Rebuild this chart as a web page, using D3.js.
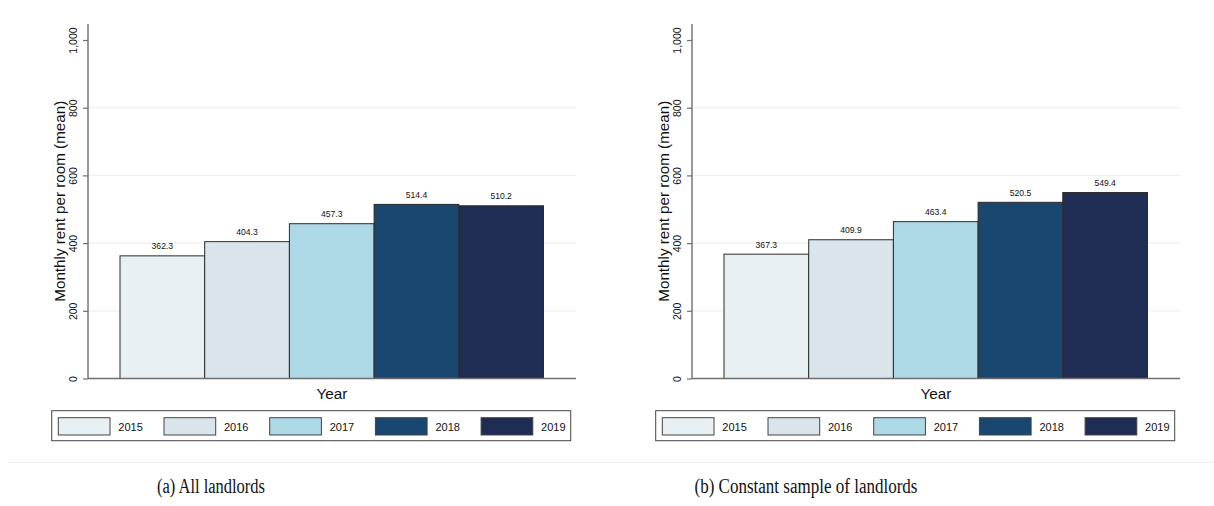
<!DOCTYPE html>
<html>
<head>
<meta charset="utf-8">
<script src="https://cdn.jsdelivr.net/npm/d3@7"></script>
<style>
  html, body { margin: 0; padding: 0; background: #fff; }
  svg { display: block; }
</style>
</head>
<body>
<svg id="chart" width="1214" height="506"></svg>
<script>
// Mean monthly rent per room by year, two samples of landlords
const years = ["2015", "2016", "2017", "2018", "2019"];
const allLandlords = [362.3, 404.3, 457.3, 514.4, 510.2];
const constantSample = [367.3, 409.9, 463.4, 520.5, 549.4];
const yTicks = [0, 200, 400, 600, 800, 1000];
const yearColors = ["#e8f0f3", "#d9e5eb", "#add8e6", "#1a476f", "#1f2c53"];
const captions = ["(a) All landlords", "(b) Constant sample of landlords"];
const yTitle = "Monthly rent per room (mean)";
const xTitle = "Year";

const svg = d3.select("#chart");
const sans = "'Liberation Sans', Arial, Helvetica, sans-serif";

// faint rule under the two graphs
svg.append("line")
  .attr("x1", 8).attr("x2", 1214)
  .attr("y1", 462.5).attr("y2", 462.5)
  .attr("stroke", "#f0f0f0").attr("stroke-width", 1);

const panels = [
  { values: allLandlords, ox: 0, caption: captions[0], capX: 211, capW: 108 },
  { values: constantSample, ox: 604, caption: captions[1], capX: 806, capW: 223 }
];

panels.forEach(p => {
  const g = svg.append("g").attr("transform", `translate(${p.ox},0)`);

  const plotLeft = 88, plotRight = 576, plotTop = 24;
  const y = d3.scaleLinear().domain([0, 1000]).range([378.5, 40]);
  const x = d3.scaleBand().domain(years).range([120, 543.5]).padding(0);

  // horizontal grid
  g.append("g").selectAll("line")
    .data(yTicks.filter(t => t > 0 && t < 1000))
    .join("line")
    .attr("x1", plotLeft).attr("x2", plotRight)
    .attr("y1", d => y(d)).attr("y2", d => y(d))
    .attr("stroke", "#eaf2f3").attr("stroke-width", 1.3);

  // bars
  g.append("g").selectAll("rect")
    .data(years.map((yr, i) => ({ yr, v: p.values[i], c: yearColors[i] })))
    .join("rect")
    .attr("x", d => x(d.yr))
    .attr("y", d => y(d.v))
    .attr("width", x.bandwidth())
    .attr("height", d => y(0) - y(d.v))
    .attr("fill", d => d.c)
    .attr("stroke", "#2b2b2b").attr("stroke-width", 1);

  // value labels
  g.append("g").selectAll("text")
    .data(years.map((yr, i) => ({ yr, v: p.values[i] })))
    .join("text")
    .attr("x", d => x(d.yr) + x.bandwidth() / 2)
    .attr("y", d => y(d.v) - 6.5)
    .attr("text-anchor", "middle")
    .attr("font-family", sans).attr("font-size", 8.6)
    .attr("fill", "#111")
    .text(d => d3.format(".1f")(d.v));

  // y axis with rotated tick labels
  const yAxis = d3.axisLeft(y).tickValues(yTicks).tickSize(5)
    .tickFormat(d3.format(","));
  const ya = g.append("g").attr("transform", `translate(${plotLeft},0)`).call(yAxis);
  ya.select(".domain").remove();
  ya.selectAll(".tick line").attr("stroke", "#6e6e6e").attr("stroke-width", 1.2);
  ya.selectAll(".tick text")
    .attr("font-family", sans).attr("font-size", 10.5).attr("fill", "#111")
    .attr("x", -11).attr("y", 0).attr("dy", 0)
    .attr("text-anchor", "middle")
    .attr("transform", "rotate(-90, -11, 0)");
  g.append("line")
    .attr("x1", plotLeft).attr("x2", plotLeft)
    .attr("y1", plotTop).attr("y2", y(0))
    .attr("stroke", "#6e6e6e").attr("stroke-width", 1.4);

  // x axis baseline
  g.append("line")
    .attr("x1", plotLeft).attr("x2", plotRight)
    .attr("y1", y(0)).attr("y2", y(0))
    .attr("stroke", "#6e6e6e").attr("stroke-width", 1.4);

  // axis titles
  g.append("text")
    .attr("transform", `translate(65,${(plotTop + y(0)) / 2}) rotate(-90)`)
    .attr("text-anchor", "middle")
    .attr("font-family", sans).attr("font-size", 15.2).attr("fill", "#111")
    .text(yTitle);
  g.append("text")
    .attr("x", (plotLeft + plotRight) / 2).attr("y", 399)
    .attr("text-anchor", "middle")
    .attr("font-family", sans).attr("font-size", 15.3).attr("fill", "#111")
    .text(xTitle);

  // legend
  const lg = g.append("g");
  lg.append("rect")
    .attr("x", 51.7).attr("y", 410.7).attr("width", 519).attr("height", 30)
    .attr("fill", "#fff").attr("stroke", "#444").attr("stroke-width", 1);
  const lx = d3.scaleBand().domain(years).range([58.3, 58.3 + 105.7 * 5]);
  const items = lg.selectAll("g.item").data(years.map((yr, i) => ({ yr, c: yearColors[i] })))
    .join("g").attr("class", "item")
    .attr("transform", d => `translate(${lx(d.yr)},0)`);
  items.append("rect")
    .attr("x", 0).attr("y", 417.7).attr("width", 51.7).attr("height", 17.3)
    .attr("fill", d => d.c).attr("stroke", "#444").attr("stroke-width", 1);
  items.append("text")
    .attr("x", 60).attr("y", 431)
    .attr("font-family", sans).attr("font-size", 11).attr("fill", "#111")
    .text(d => d.yr);
});

// sub-figure captions
svg.append("g").selectAll("text")
  .data(panels)
  .join("text")
  .attr("x", d => d.capX).attr("y", 493)
  .attr("text-anchor", "middle")
  .attr("font-family", "'Liberation Serif', 'Times New Roman', serif")
  .attr("font-size", 20).attr("fill", "#111")
  .attr("textLength", d => d.capW)
  .attr("lengthAdjust", "spacingAndGlyphs")
  .text(d => d.caption);
</script>
</body>
</html>
